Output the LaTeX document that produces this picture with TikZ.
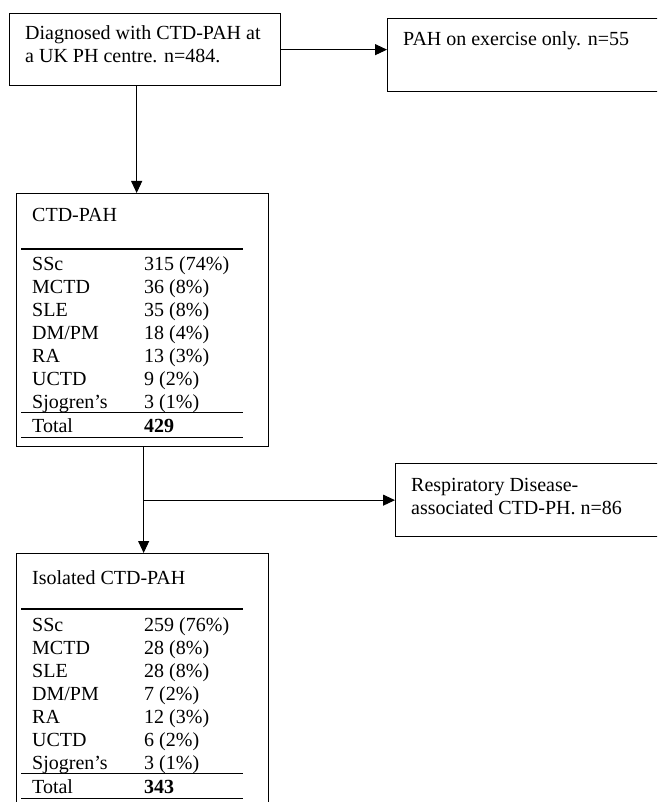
\documentclass[tikz,border=0pt]{standalone}
\usepackage{fontspec}
\setmainfont{Liberation Serif}
\usetikzlibrary{positioning,arrows.meta,calc}

\begin{document}
\begin{tikzpicture}[x=1pt, y=-1pt, font=\fontsize{20}{23}\selectfont,
  box/.style={draw, line width=1.3pt, rectangle, inner sep=0pt, anchor=north west},
  txt/.style={anchor=base west, inner sep=0pt, align=left},
  arr/.style={line width=1pt, -{Triangle[length=12pt, width=11pt]}},
  headrule/.style={line width=2.7pt},
  thinrule/.style={line width=1pt}]
\useasboundingbox (0,0) rectangle (657,802);
\clip (0,0) rectangle (657,802);
% boxes, corners at pixel positions of the flow chart
\node[box, minimum width=271pt, minimum height=72pt] (diag) at (9,13) {};
\node[box, minimum width=300pt, minimum height=73pt] (exer) at (387,18) {};
\node[box, minimum width=252pt, minimum height=253pt] (ctd) at (16,193) {};
\node[box, minimum width=300pt, minimum height=73pt] (resp) at (395,463) {};
\node[box, minimum width=252pt, minimum height=280pt] (iso) at (16,553) {};
% box texts (two-line nodes sit on their last line)
\node[txt] (diag-t) at ($(diag.north west)+(16,50)$)
  {Diagnosed with CTD-PAH at\\a UK PH centre. n=484.};
\node[txt] (exer-t) at ($(exer.north west)+(16,28)$) {PAH on exercise only. n=55};
\node[txt] (resp-t) at ($(resp.north west)+(16,51)$)
  {Respiratory Disease-\\associated CTD-PH. n=86};
% CTD-PAH table
\node[txt] (ctd-t) at ($(ctd.north west)+(16,29)$) {CTD-PAH};
\draw[headrule] ($(ctd.north west)+(5,56)$) -- ($(ctd.north west)+(227,56)$);
\foreach \lab/\val [count=\i] in {SSc/315 (74\%), MCTD/36 (8\%), SLE/35 (8\%),
    {DM/PM}/18 (4\%), RA/13 (3\%), UCTD/9 (2\%), Sjogren's/3 (1\%)} {
  \node[txt] (ctd-n\i) at ($(ctd.north west)+(16,{77.5+23*(\i-1)})$) {\lab};
  \node[txt] (ctd-v\i) at ($(ctd.north west)+(128,{77.5+23*(\i-1)})$) {\val};
}
\draw[thinrule] ($(ctd.north west)+(5,219.5)$) -- ($(ctd.north west)+(227,219.5)$);
\node[txt] (ctd-nt) at ($(ctd.north west)+(16,239.5)$) {Total};
\node[txt] (ctd-vt) at ($(ctd.north west)+(128,239.5)$) {\textbf{429}};
\draw[thinrule] ($(ctd.north west)+(5,244.5)$) -- ($(ctd.north west)+(227,244.5)$);
% Isolated CTD-PAH table
\node[txt] (iso-t) at ($(iso.north west)+(16,31)$) {Isolated CTD-PAH};
\draw[headrule] ($(iso.north west)+(5,56)$) -- ($(iso.north west)+(227,56)$);
\foreach \lab/\val [count=\i] in {SSc/259 (76\%), MCTD/28 (8\%), SLE/28 (8\%),
    {DM/PM}/7 (2\%), RA/12 (3\%), UCTD/6 (2\%), Sjogren's/3 (1\%)} {
  \node[txt] (iso-n\i) at ($(iso.north west)+(16,{78+23*(\i-1)})$) {\lab};
  \node[txt] (iso-v\i) at ($(iso.north west)+(128,{78+23*(\i-1)})$) {\val};
}
\draw[thinrule] ($(iso.north west)+(5,220)$) -- ($(iso.north west)+(227,220)$);
\node[txt] (iso-nt) at ($(iso.north west)+(16,240)$) {Total};
\node[txt] (iso-vt) at ($(iso.north west)+(128,240)$) {\textbf{343}};
\draw[thinrule] ($(iso.north west)+(5,245)$) -- ($(iso.north west)+(227,245)$);
% connectors
\draw[arr] (diag.east) -- (diag.east -| exer.west);
\draw[arr] ([xshift=-8.5pt]diag.south) -- ([xshift=-8.5pt]diag.south |- ctd.north);
\draw[arr] ([xshift=1pt]ctd.south) -- ([xshift=1pt]ctd.south |- iso.north);
\draw[arr] ([xshift=1pt]ctd.south |- resp.west) -- (resp.west);
\end{tikzpicture}
\end{document}
